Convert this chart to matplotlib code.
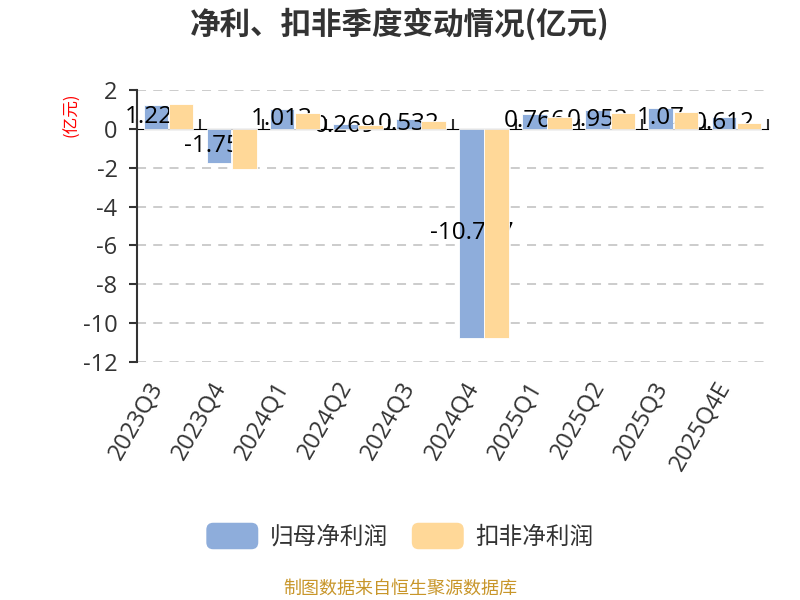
import numpy as np
import matplotlib
matplotlib.use("Agg")
import matplotlib.pyplot as plt
from matplotlib.patches import FancyBboxPatch, Patch
from matplotlib.legend_handler import HandlerPatch

plt.rcParams["font.family"] = ["Open Sans", "Noto Sans CJK SC", "DejaVu Sans"]
plt.rcParams["axes.unicode_minus"] = False

quarters = ["2023Q3", "2023Q4", "2024Q1", "2024Q2", "2024Q3",
            "2024Q4", "2025Q1", "2025Q2", "2025Q3", "2025Q4E"]
net_profit = [1.225, -1.752, 1.013, 0.269, 0.532,
              -10.747, 0.766, 0.952, 1.07, 0.612]
deducted_profit = [1.27, -2.07, 0.83, 0.20, 0.41,
                   -10.75, 0.63, 0.83, 0.88, 0.30]
yticks = [2, 0, -2, -4, -6, -8, -10, -12]

BLUE = "#8EADDB"
ORANGE = "#FFD898"
TEXT = "#333333"
CJK = ["Noto Sans CJK SC", "DejaVu Sans"]


class RoundHandler(HandlerPatch):
    def create_artists(self, legend, orig_handle, xdescent, ydescent,
                       width, height, fontsize, trans):
        p = FancyBboxPatch((-xdescent, -ydescent), width, height,
                           boxstyle="round,pad=0,rounding_size=5",
                           facecolor=orig_handle.get_facecolor(),
                           edgecolor="none", transform=trans)
        return [p]


fig = plt.figure(figsize=(8, 6), dpi=100)
ax = fig.add_axes([137 / 800, 1 - 362 / 600, 631 / 800, 272 / 600])

x = np.arange(len(quarters))
w = 0.39
ax.bar(x - 0.2, net_profit, w, color=BLUE, edgecolor="white",
       linewidth=0.6, zorder=2)
for xi, v in zip(x, net_profit):
    ax.text(xi - 0.2, v / 2, f"{v:g}", ha="center", va="center",
            fontsize=17.5, color="black", zorder=3)
ax.bar(x + 0.2, deducted_profit, w, color=ORANGE, edgecolor="white",
       linewidth=0.6, zorder=4)

ax.set_xlim(-0.5, len(quarters) - 0.5)
ax.set_ylim(-12, 2)
ax.set_yticks(yticks)
ax.set_yticklabels([str(t) for t in yticks], fontsize=17, color=TEXT)
ax.tick_params(axis="y", direction="out", length=6, width=1.5,
               color=TEXT, pad=8)

for t in yticks:
    if t != 0:
        ax.axhline(t, color="#c8c8c8", linestyle=(0, (5, 4)),
                   linewidth=1.3, zorder=1)

for s in ["top", "right", "bottom"]:
    ax.spines[s].set_visible(False)
ax.spines["left"].set_color(TEXT)
ax.spines["left"].set_linewidth(1.5)

ax.set_xticks(x)
ax.set_xticklabels(quarters, rotation=60, ha="right", va="top",
                   fontsize=17, color=TEXT)
ax.tick_params(axis="x", length=0, pad=11)

# zero axis with ticks at band boundaries
sec = ax.secondary_xaxis(12 / 14)
sec.spines["bottom"].set_color(TEXT)
sec.spines["bottom"].set_linewidth(1.5)
sec.set_xticks(np.arange(-0.5, len(quarters), 1.0))
sec.set_xticklabels([])
sec.tick_params(axis="x", direction="out", length=7, width=1.5, color=TEXT)

fig.text(0.5, 1 - 24 / 600, "净利、扣非季度变动情况(亿元)", ha="center",
         va="center", fontsize=22, fontweight="bold", color=TEXT,
         family=CJK)
fig.text(72 / 800, 1 - 115 / 600, "(亿元)", rotation=90, ha="center",
         va="center", fontsize=12, color="red", family=CJK)

h1 = Patch(facecolor=BLUE, label="归母净利润")
h2 = Patch(facecolor=ORANGE, label="扣非净利润")
leg = fig.legend(handles=[h1, h2], loc="center", ncol=2,
                 bbox_to_anchor=(0.5, 1 - 536 / 600), frameon=False,
                 prop={"family": CJK, "size": 17},
                 handlelength=2.2, handleheight=1.35,
                 handletextpad=0.5, columnspacing=1.0,
                 handler_map={Patch: RoundHandler()})
for t in leg.get_texts():
    t.set_color(TEXT)

fig.text(0.5, 1 - 589 / 600, "制图数据来自恒生聚源数据库", ha="center",
         va="center", fontsize=13, color="#C8962A", family=CJK)

fig.savefig("out.png", dpi=100)
